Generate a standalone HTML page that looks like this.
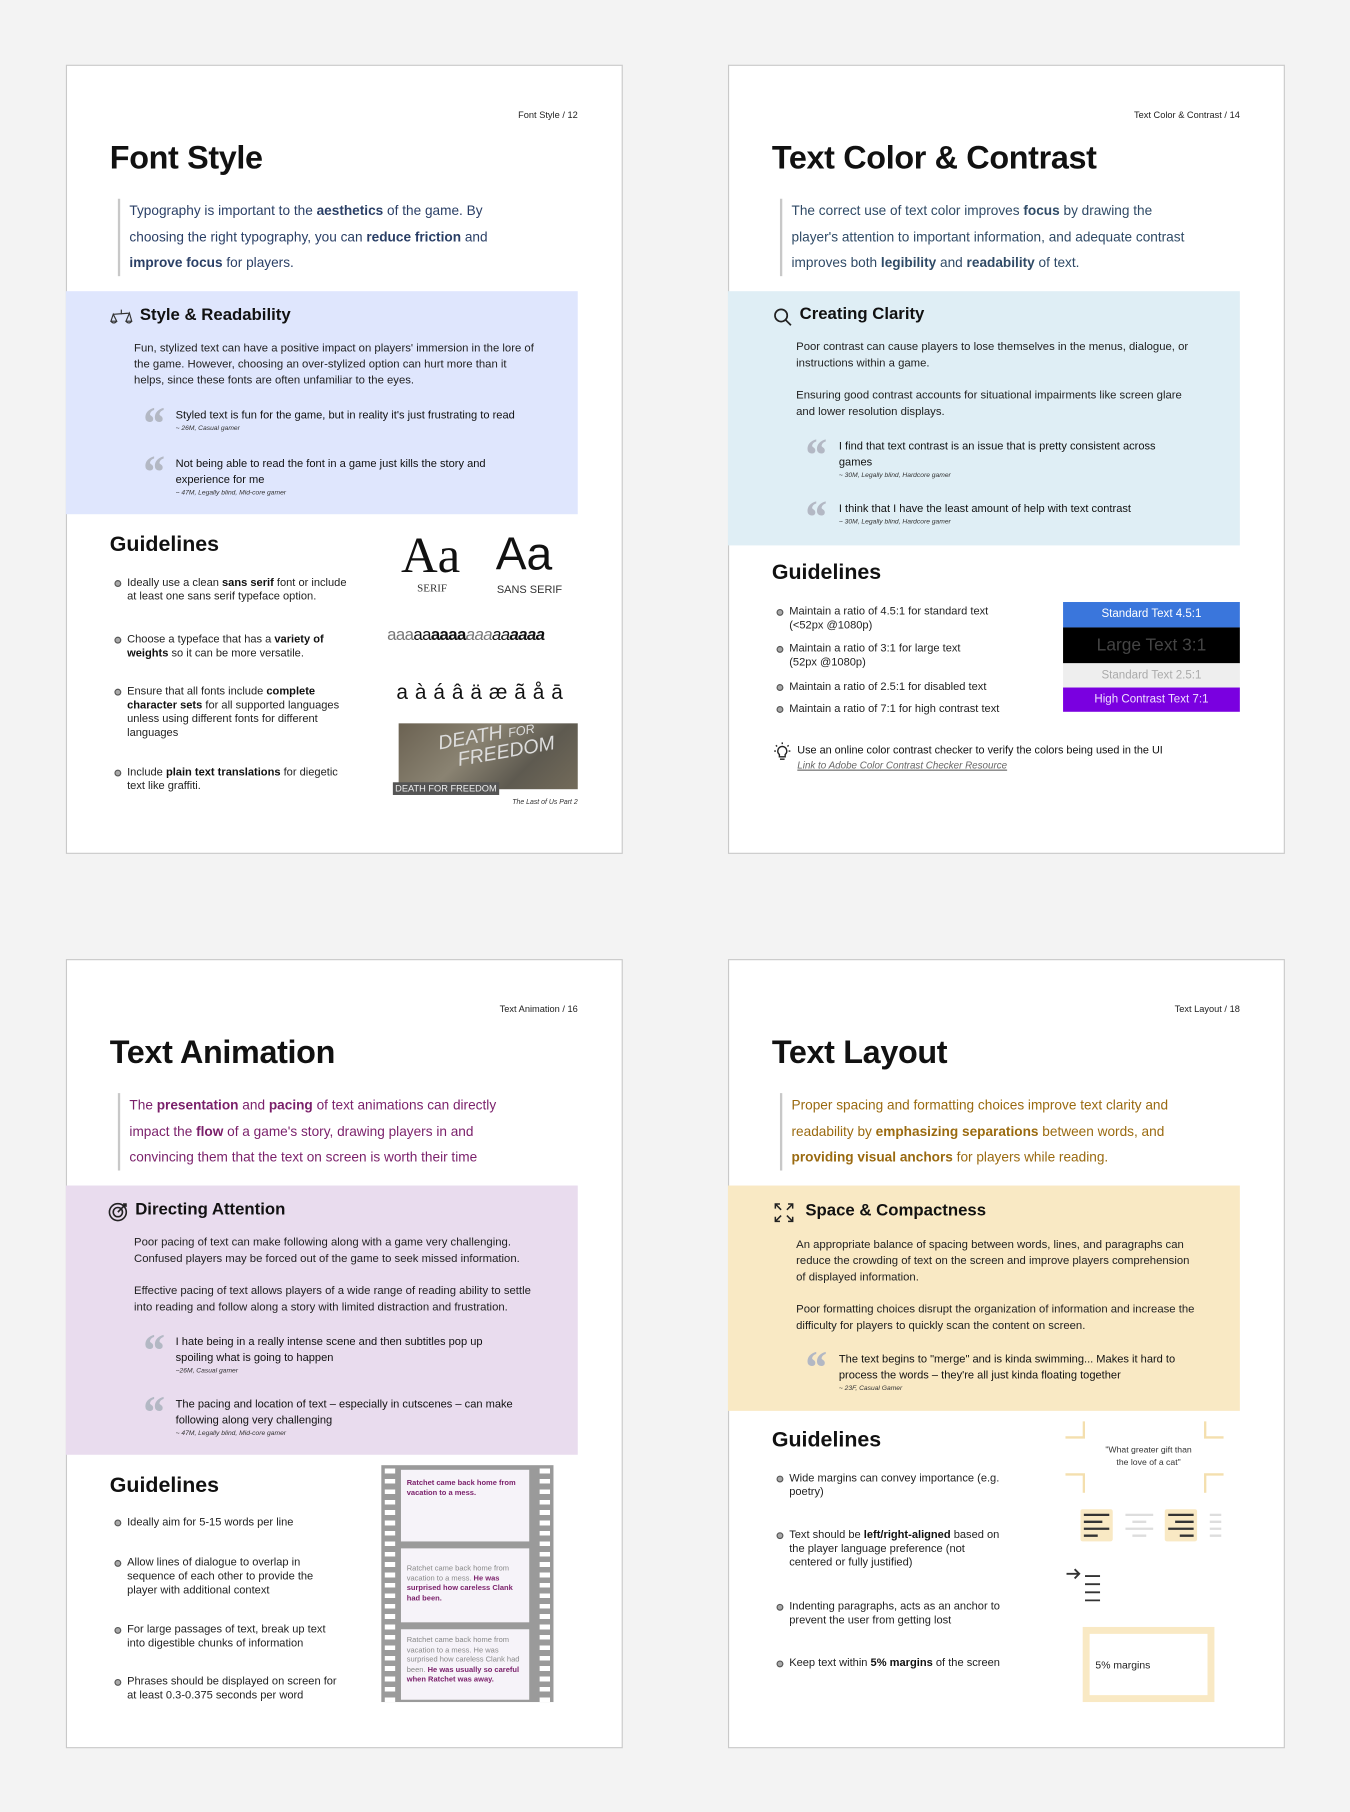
<!DOCTYPE html>
<html><head><meta charset="utf-8">
<style>
html,body{margin:0;padding:0;background:#f3f3f3;width:1350px;height:1812px;overflow:hidden}
#o{position:absolute;left:0;top:0;width:1350px;height:1812px;overflow:hidden;background:#f3f3f3}
#w{position:absolute;left:0;top:0;width:1168px;height:1568px;transform:scale(1.1555);transform-origin:0 0;font-family:"Liberation Sans",sans-serif;color:#111}
.pg{position:absolute;width:480px;height:681px;background:#fff;border:1px solid #c9c9c9}
.g{position:absolute;left:0;top:0;width:1168px;height:1568px}
.t{position:absolute;white-space:nowrap;line-height:1.2}
.hd{font-size:8px;color:#222;text-align:right;width:200px;left:300px;top:95px}
.ti{font-size:28px;font-weight:bold;left:95px;top:120px;letter-spacing:-0.3px}
.bar{position:absolute;left:102px;top:172px;width:2px;height:67px;background:#c8c8c8}
.intro{position:absolute;left:112px;top:171px;white-space:nowrap;font-size:11.8px;line-height:22.5px}
.intro b{font-weight:bold}
.pan{position:absolute;left:57px;width:443px}
.h2{font-size:14.5px;font-weight:bold}
.body{position:absolute;left:116px;white-space:nowrap;font-size:9.8px;line-height:14px;color:#222}
.qm{position:absolute;font-family:"Liberation Serif",serif;font-size:40px;color:#b3b8c4;font-style:italic;font-weight:bold;line-height:1}
.qt{position:absolute;white-space:nowrap;font-size:9.6px;line-height:14px;color:#111}
.at{font-size:5.8px;font-style:italic;color:#333;line-height:9px;display:block}
.gl{font-size:18.5px;font-weight:bold;left:95px}
.bl{position:absolute;left:110px;white-space:nowrap;font-size:9.6px;line-height:12px;color:#222}
.bl::before{content:"";position:absolute;left:-11px;top:3px;width:4px;height:4px;border:1.3px solid #555;border-radius:50%;background:#aaa}
.bl b{font-weight:bold;color:#111}
</style></head><body><div id="o"><div id="w">
<div class="pg" style="left:57px;top:56px"></div>
<div class="pg" style="left:630px;top:56px"></div>
<div class="pg" style="left:57px;top:830px"></div>
<div class="pg" style="left:630px;top:830px"></div>

<!-- PAGE 1 -->
<div class="g">
<div class="t hd">Font Style / 12</div>
<div class="t ti">Font Style</div>
<div class="bar"></div>
<div class="intro" style="color:#2a3f66">Typography is important to the <b>aesthetics</b> of the game. By<br>choosing the right typography, you can <b>reduce friction</b> and<br><b>improve focus</b> for players.</div>
<div class="pan" style="top:252px;height:193px;background:#dfe6fd"></div>
<svg style="position:absolute;left:95px;top:267px" width="20" height="16" viewBox="0 0 20 16" fill="none" stroke="#333" stroke-width="1"><line x1="10" y1="1" x2="10" y2="5"/><line x1="3" y1="5" x2="17" y2="4"/><path d="M3 5 L1 11 H6 Z M17 4 L14 11 H19 Z"/><path d="M1 11 Q3.5 14 6 11 M14 11 Q16.5 14 19 11"/></svg>
<div class="t h2" style="left:121px;top:265px">Style &amp; Readability</div>
<div class="body" style="top:295px">Fun, stylized text can have a positive impact on players' immersion in the lore of<br>the game. However, choosing an over-stylized option can hurt more than it<br>helps, since these fonts are often unfamiliar to the eyes.</div>
<div class="qm" style="left:122px;top:347px">“</div>
<div class="qt" style="left:152px;top:353px">Styled text is fun for the game, but in reality it's just frustrating to read<span class="at">~ 26M, Casual gamer</span></div>
<div class="qm" style="left:122px;top:389px">“</div>
<div class="qt" style="left:152px;top:395px">Not being able to read the font in a game just kills the story and<br>experience for me<span class="at">~ 47M, Legally blind, Mid-core gamer</span></div>
<div class="t gl" style="top:460px">Guidelines</div>
<div class="bl" style="top:499px">Ideally use a clean <b>sans serif</b> font or include<br>at least one sans serif typeface option.</div>
<div class="bl" style="top:548px">Choose a typeface that has a <b>variety of<br>weights</b> so it can be more versatile.</div>
<div class="bl" style="top:593px">Ensure that all fonts include <b>complete<br>character sets</b> for all supported languages<br>unless using different fonts for different<br>languages</div>
<div class="bl" style="top:663px">Include <b>plain text translations</b> for diegetic<br>text like graffiti.</div>
<div class="t" style="left:347px;top:455px;font-family:'Liberation Serif',serif;font-size:44px">Aa</div>
<div class="t" style="left:429px;top:456px;font-size:40px">Aa</div>
<div class="t" style="left:361px;top:505px;font-family:'Liberation Serif',serif;font-size:9.5px;color:#333">SERIF</div>
<div class="t" style="left:430px;top:505px;font-size:9.5px;color:#333">SANS SERIF</div>
<div class="t" style="left:335px;top:542px;font-size:14.5px;letter-spacing:-0.5px"><span style="color:#777">aaa</span><span>aa</span><b>aaaa</b><i style="color:#777">aaa</i><i>aa</i><b><i>aaaa</i></b></div>
<div class="t" style="left:343px;top:589px;font-size:18px;word-spacing:1px">a à á â ä æ ã å ā</div>
<div style="position:absolute;left:345px;top:626px;width:155px;height:57px;background:linear-gradient(135deg,#6b6252,#8a8372 40%,#5e5a50 70%,#736b5a)"></div>
<div class="t" style="left:380px;top:626px;font-size:17px;color:#ddd;font-style:italic;transform:rotate(-10deg);line-height:1">DEATH <span style="font-size:11px">FOR</span><br>&nbsp;&nbsp;&nbsp;FREEDOM</div>
<div class="t" style="left:340px;top:677px;font-size:8px;color:#eee;background:#555;padding:0 2px;line-height:11px">DEATH FOR FREEDOM</div>
<div class="t" style="left:400px;top:692px;width:100px;text-align:right;font-size:6px;font-style:italic;color:#333">The Last of Us Part 2</div>
</div>

<!-- PAGE 2 -->
<div class="g" style="left:573px">
<div class="t hd">Text Color &amp; Contrast / 14</div>
<div class="t ti">Text Color &amp; Contrast</div>
<div class="bar"></div>
<div class="intro" style="color:#2f4a66">The correct use of text color improves <b>focus</b> by drawing the<br>player's attention to important information, and adequate contrast<br>improves both <b>legibility</b> and <b>readability</b> of text.</div>
<div class="pan" style="top:252px;height:220px;background:#dfeef5"></div>
<svg style="position:absolute;left:96px;top:266px" width="17" height="17" viewBox="0 0 17 17" fill="none" stroke="#222" stroke-width="1.5"><circle cx="7" cy="7" r="5.3"/><line x1="11" y1="11" x2="15.5" y2="15.5"/></svg>
<div class="t h2" style="left:119px;top:264px">Creating Clarity</div>
<div class="body" style="top:294px">Poor contrast can cause players to lose themselves in the menus, dialogue, or<br>instructions within a game.<br><span style="display:block;height:14px"></span>Ensuring good contrast accounts for situational impairments like screen glare<br>and lower resolution displays.</div>
<div class="qm" style="left:122px;top:374px">“</div>
<div class="qt" style="left:153px;top:380px">I find that text contrast is an issue that is pretty consistent across<br>games<span class="at">~ 30M, Legally blind, Hardcore gamer</span></div>
<div class="qm" style="left:122px;top:428px">“</div>
<div class="qt" style="left:153px;top:434px">I think that I have the least amount of help with text contrast<span class="at">~ 30M, Legally blind, Hardcore gamer</span></div>
<div class="t gl" style="top:484px">Guidelines</div>
<div class="bl" style="top:524px">Maintain a ratio of 4.5:1 for standard text<br>(&lt;52px @1080p)</div>
<div class="bl" style="top:556px">Maintain a ratio of 3:1 for large text<br>(52px @1080p)</div>
<div class="bl" style="top:589px">Maintain a ratio of 2.5:1 for disabled text</div>
<div class="bl" style="top:608px">Maintain a ratio of 7:1 for high contrast text</div>
<div style="position:absolute;left:347px;top:521px;width:153px;height:22px;background:#3a76dc;color:#fff;font-size:10px;text-align:center;line-height:22px">Standard Text 4.5:1</div>
<div style="position:absolute;left:347px;top:543px;width:153px;height:31px;background:#000;color:#444;font-size:15px;text-align:center;line-height:31px">Large Text 3:1</div>
<div style="position:absolute;left:347px;top:574px;width:153px;height:21px;background:#eeeeee;color:#aaa;font-size:10px;text-align:center;line-height:21px">Standard Text 2.5:1</div>
<div style="position:absolute;left:347px;top:595px;width:153px;height:21px;background:#7a00e0;color:#f0e0ff;font-size:10px;text-align:center;line-height:21px">High Contrast Text 7:1</div>
<svg style="position:absolute;left:95px;top:642px" width="18" height="18" viewBox="0 0 18 18" fill="none" stroke="#222" stroke-width="1.2"><path d="M9 4 a4 4 0 0 1 2.5 7 v2 h-5 v-2 A4 4 0 0 1 9 4z"/><line x1="7" y1="15" x2="11" y2="15"/><line x1="9" y1="0.5" x2="9" y2="2"/><line x1="2" y1="8" x2="3.5" y2="8"/><line x1="14.5" y1="8" x2="16" y2="8"/><line x1="3.5" y1="3" x2="4.5" y2="4"/><line x1="14.5" y1="3" x2="13.5" y2="4"/></svg>
<div class="t" style="left:117px;top:643px;font-size:9.4px">Use an online color contrast checker to verify the colors being used in the UI</div>
<div class="t" style="left:117px;top:657px;font-size:8.5px;font-style:italic;color:#666;text-decoration:underline">Link to Adobe Color Contrast Checker Resource</div>
</div>

<!-- PAGE 3 -->
<div class="g" style="top:774px">
<div class="t hd">Text Animation / 16</div>
<div class="t ti">Text Animation</div>
<div class="bar"></div>
<div class="intro" style="color:#7a1f6a">The <b>presentation</b> and <b>pacing</b> of text animations can directly<br>impact the <b>flow</b> of a game's story, drawing players in and<br>convincing them that the text on screen is worth their time</div>
<div class="pan" style="top:252px;height:233px;background:#e9dcee"></div>
<svg style="position:absolute;left:93px;top:266px" width="18" height="18" viewBox="0 0 18 18" fill="none" stroke="#222" stroke-width="1.4"><circle cx="9" cy="9" r="7.3"/><circle cx="9" cy="9" r="4"/><line x1="9" y1="9" x2="16" y2="2"/><path d="M13.5 2 H16 V4.5"/></svg>
<div class="t h2" style="left:117px;top:265px">Directing Attention</div>
<div class="body" style="top:295px">Poor pacing of text can make following along with a game very challenging.<br>Confused players may be forced out of the game to seek missed information.<br><span style="display:block;height:14px"></span>Effective pacing of text allows players of a wide range of reading ability to settle<br>into reading and follow along a story with limited distraction and frustration.</div>
<div class="qm" style="left:122px;top:375px">“</div>
<div class="qt" style="left:152px;top:381px">I hate being in a really intense scene and then subtitles pop up<br>spoiling what is going to happen<span class="at">~26M, Casual gamer</span></div>
<div class="qm" style="left:122px;top:429px">“</div>
<div class="qt" style="left:152px;top:435px">The pacing and location of text – especially in cutscenes – can make<br>following along very challenging<span class="at">~ 47M, Legally blind, Mid-core gamer</span></div>
<div class="t gl" style="top:500px">Guidelines</div>
<div class="bl" style="top:538px">Ideally aim for 5-15 words per line</div>
<div class="bl" style="top:573px">Allow lines of dialogue to overlap in<br>sequence of each other to provide the<br>player with additional context</div>
<div class="bl" style="top:631px">For large passages of text, break up text<br>into digestible chunks of information</div>
<div class="bl" style="top:676px">Phrases should be displayed on screen for<br>at least 0.3-0.375 seconds per word</div>
<div style="position:absolute;left:330px;top:494px;width:149px;height:205px;background:#9a9a9a;background-image:repeating-linear-gradient(to bottom,transparent 0 3px,#fff 3px 7px,transparent 7px 9px),repeating-linear-gradient(to bottom,transparent 0 3px,#fff 3px 7px,transparent 7px 9px);background-size:9px 205px,9px 205px;background-position:3px 0,137px 0;background-repeat:no-repeat"></div>
<div style="position:absolute;left:347px;top:498px;width:111px;height:62px;background:#f6f3f9;font-size:6.5px;line-height:8.5px;padding:8px 5px;box-sizing:border-box;color:#7a1f6a;font-weight:bold">Ratchet came back home from vacation to a mess.</div>
<div style="position:absolute;left:347px;top:566px;width:111px;height:64px;background:#f6f3f9;font-size:6.5px;line-height:8.5px;padding:14px 5px;box-sizing:border-box;color:#888">Ratchet came back home from vacation to a mess. <b style="color:#7a1f6a">He was surprised how careless Clank had been.</b></div>
<div style="position:absolute;left:347px;top:636px;width:111px;height:61px;background:#f6f3f9;font-size:6.5px;line-height:8.5px;padding:6px 5px;box-sizing:border-box;color:#888">Ratchet came back home from vacation to a mess. He was surprised how careless Clank had been. <b style="color:#7a1f6a">He was usually so careful when Ratchet was away.</b></div>
</div>

<!-- PAGE 4 -->
<div class="g" style="left:573px;top:774px">
<div class="t hd">Text Layout / 18</div>
<div class="t ti">Text Layout</div>
<div class="bar"></div>
<div class="intro" style="color:#9a6a10">Proper spacing and formatting choices improve text clarity and<br>readability by <b>emphasizing separations</b> between words, and<br><b>providing visual anchors</b> for players while reading.</div>
<div class="pan" style="top:252px;height:195px;background:#f9e9c4"></div>
<svg style="position:absolute;left:97px;top:267px" width="17" height="17" viewBox="0 0 17 17" fill="none" stroke="#222" stroke-width="1.3"><path d="M1 5 V1 H5 M1 1 L6 6 M12 1 H16 V5 M16 1 L11 6 M1 12 V16 H5 M1 16 L6 11 M16 12 V16 H12 M16 16 L11 11"/></svg>
<div class="t h2" style="left:124px;top:266px">Space &amp; Compactness</div>
<div class="body" style="top:297px">An appropriate balance of spacing between words, lines, and paragraphs can<br>reduce the crowding of text on the screen and improve players comprehension<br>of displayed information.<br><span style="display:block;height:14px"></span>Poor formatting choices disrupt the organization of information and increase the<br>difficulty for players to quickly scan the content on screen.</div>
<div class="qm" style="left:122px;top:390px">“</div>
<div class="qt" style="left:153px;top:396px">The text begins to "merge" and is kinda swimming... Makes it hard to<br>process the words – they're all just kinda floating together<span class="at">~ 23F, Casual Gamer</span></div>
<div class="t gl" style="top:461px">Guidelines</div>
<div class="bl" style="top:500px">Wide margins can convey importance (e.g.<br>poetry)</div>
<div class="bl" style="top:549px">Text should be <b>left/right-aligned</b> based on<br>the player language preference (not<br>centered or fully justified)</div>
<div class="bl" style="top:611px">Indenting paragraphs, acts as an anchor to<br>prevent the user from getting lost</div>
<div class="bl" style="top:660px">Keep text within <b>5% margins</b> of the screen</div>
<svg style="position:absolute;left:349px;top:456px" width="137" height="62" fill="none" stroke="#f4dfae" stroke-width="2"><path d="M16 0 V14 H0 M121 0 V14 H137 M0 46 H16 V62 M137 46 H121 V62"/></svg>
<div class="t" style="left:361px;top:476px;width:120px;text-align:center;font-size:7.5px;line-height:10.5px;color:#333">"What greater gift than<br>the love of a cat"</div>
<svg style="position:absolute;left:362px;top:532px" width="122" height="30">
<rect x="0" y="0" width="28" height="28" rx="2" fill="#f9e9c4"/>
<g stroke="#333" stroke-width="2"><line x1="3" y1="5" x2="25" y2="5"/><line x1="3" y1="11" x2="19" y2="11"/><line x1="3" y1="17" x2="25" y2="17"/><line x1="3" y1="23" x2="15" y2="23"/></g>
<g stroke="#ddd" stroke-width="2"><line x1="39" y1="5" x2="63" y2="5"/><line x1="45" y1="11" x2="57" y2="11"/><line x1="39" y1="17" x2="63" y2="17"/><line x1="45" y1="23" x2="57" y2="23"/></g>
<rect x="73" y="0" width="28" height="28" rx="2" fill="#f9e9c4"/>
<g stroke="#333" stroke-width="2"><line x1="76" y1="5" x2="98" y2="5"/><line x1="82" y1="11" x2="98" y2="11"/><line x1="76" y1="17" x2="98" y2="17"/><line x1="86" y1="23" x2="98" y2="23"/></g>
<g stroke="#ddd" stroke-width="2"><line x1="112" y1="5" x2="122" y2="5"/><line x1="112" y1="11" x2="122" y2="11"/><line x1="112" y1="17" x2="122" y2="17"/><line x1="112" y1="23" x2="122" y2="23"/></g>
</svg>
<svg style="position:absolute;left:349px;top:582px" width="40" height="36" fill="none" stroke="#333" stroke-width="1.6"><path d="M1 6 H12 M8 2 L12 6 L8 10"/><line x1="17" y1="8" x2="30" y2="8"/><line x1="17" y1="15" x2="30" y2="15"/><line x1="17" y1="22" x2="30" y2="22"/><line x1="17" y1="29" x2="30" y2="29"/></svg>
<div style="position:absolute;left:364px;top:634px;width:114px;height:65px;border:6px solid #f9e9c4;box-sizing:border-box"></div>
<div class="t" style="left:375px;top:662px;font-size:9px;color:#222">5% margins</div>
</div>
</div></div></body></html>
